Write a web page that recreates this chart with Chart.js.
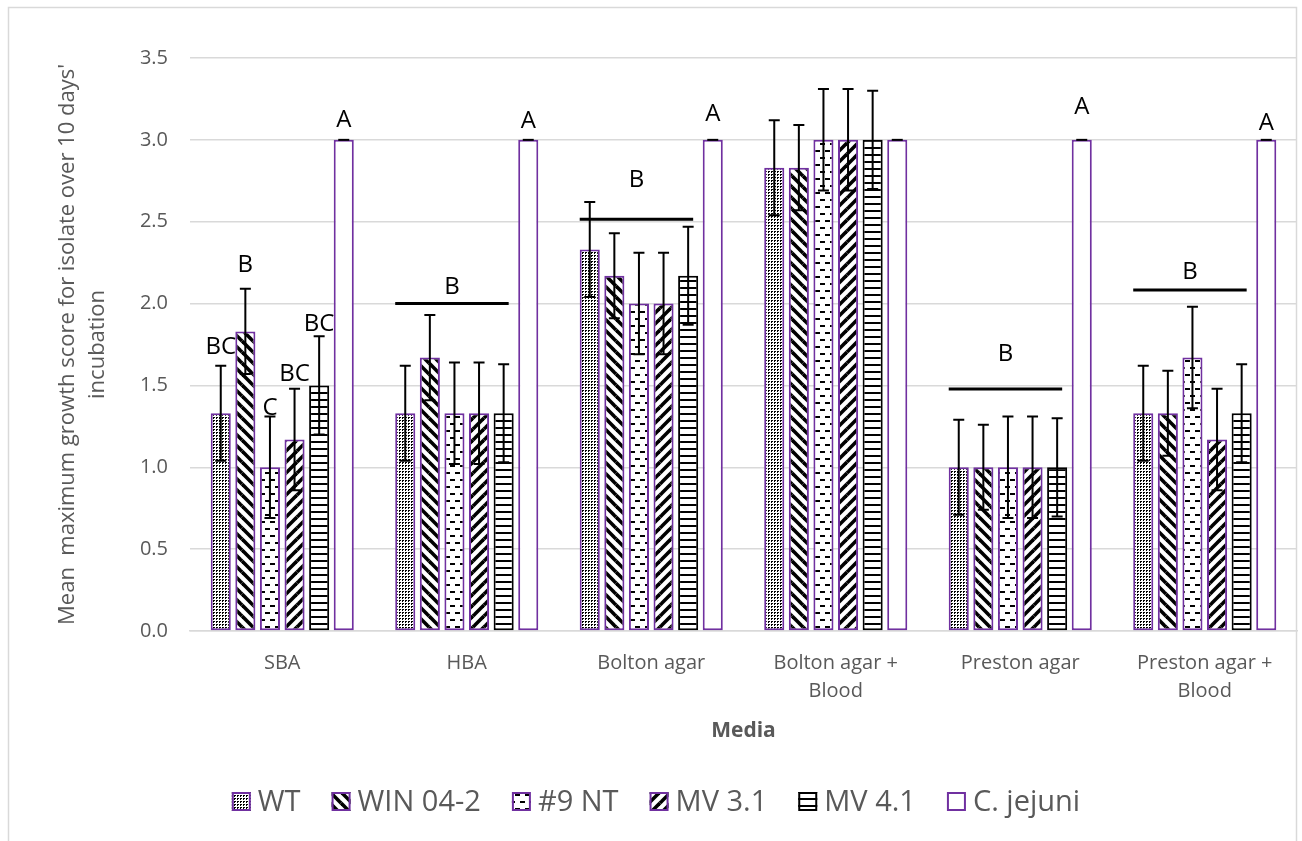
<!DOCTYPE html>
<html>
<head>
<meta charset="utf-8">
<title>Mean maximum growth score by medium</title>
<script src="https://cdn.jsdelivr.net/npm/chart.js@4.4.1/dist/chart.umd.min.js"></script>
<style>
  html, body { margin: 0; padding: 0; background: #ffffff; }
  canvas { display: block; }
</style>
</head>
<body>
<canvas id="growth" width="1302" height="841"></canvas>
<script>
// ---- data -------------------------------------------------------------
const media = ['SBA', 'HBA', 'Bolton agar', ['Bolton agar +', 'Blood'], 'Preston agar', ['Preston agar +', 'Blood']];
const isolates = ['WT', 'WIN 04-2', '#9 NT', 'MV 3.1', 'MV 4.1', 'C. jejuni'];

const wtMean       = [1.33, 1.33, 2.33, 2.83, 1.00, 1.33];
const win042Mean   = [1.83, 1.67, 2.17, 2.83, 1.00, 1.33];
const nt9Mean      = [1.00, 1.33, 2.00, 3.00, 1.00, 1.67];
const mv31Mean     = [1.17, 1.33, 2.00, 3.00, 1.00, 1.17];
const mv41Mean     = [1.50, 1.33, 2.17, 3.00, 1.00, 1.33];
const cjejuniMean  = [3.00, 3.00, 3.00, 3.00, 3.00, 3.00];

const wtErr      = [0.29, 0.29, 0.29, 0.29, 0.29, 0.29];
const win042Err  = [0.26, 0.26, 0.26, 0.26, 0.26, 0.26];
const nt9Err     = [0.31, 0.31, 0.31, 0.31, 0.31, 0.31];
const mv31Err    = [0.31, 0.31, 0.31, 0.31, 0.31, 0.31];
const mv41Err    = [0.30, 0.30, 0.30, 0.30, 0.30, 0.30];
const cjejuniErr = [0, 0, 0, 0, 0, 0];

const yTickValues = [0, 0.5, 1.0, 1.5, 2.0, 2.5, 3.0, 3.5];
const yTickLabels = ['0.0', '0.5', '1.0', '1.5', '2.0', '2.5', '3.0', '3.5'];

// significance letters over single bars (media index, isolate index, letter, baseline value)
const barLetters = [
  { media: 0, isolate: 0, text: 'BC', at: 1.69 },
  { media: 0, isolate: 1, text: 'B',  at: 2.19 },
  { media: 0, isolate: 2, text: 'C',  at: 1.32 },
  { media: 0, isolate: 3, text: 'BC', at: 1.53 },
  { media: 0, isolate: 4, text: 'BC', at: 1.83 },
  { media: 0, isolate: 5, text: 'A',  at: 3.08 },
  { media: 1, isolate: 5, text: 'A',  at: 3.075 },
  { media: 2, isolate: 5, text: 'A',  at: 3.115 },
  { media: 4, isolate: 5, text: 'A',  at: 3.16 },
  { media: 5, isolate: 5, text: 'A',  at: 3.06 }
];
// shared letter over the five test isolates of one medium
const groupLetters = [
  { media: 1, text: 'B', lineAt: 2.00,  at: 2.056 },
  { media: 2, text: 'B', lineAt: 2.515, at: 2.71 },
  { media: 4, text: 'B', lineAt: 1.478, at: 1.652 },
  { media: 5, text: 'B', lineAt: 2.083, at: 2.153 }
];

// ---- fills ------------------------------------------------------------
const INK = '#000000';
const PURPLE = '#7030A0';
const TEXT_GREY = '#595959';
const GRID_GREY = '#d9d9d9';
const FONT = "'Open Sans', 'Noto Sans', sans-serif";

function makeTile(w, h, paint) {
  const c = document.createElement('canvas');
  c.width = w; c.height = h;
  const g = c.getContext('2d');
  g.fillStyle = '#ffffff';
  g.fillRect(0, 0, w, h);
  g.fillStyle = INK;
  g.strokeStyle = INK;
  paint(g, w, h);
  return g.createPattern(c, 'repeat');
}
function diagonal(down) {
  return makeTile(11, 11, (g, w, h) => {
    g.lineWidth = 3.6;
    for (const [dx, dy] of [[0, 0], [-w, 0], [w, 0], [0, -h], [0, h]]) {
      g.beginPath();
      if (down) { g.moveTo(dx, dy); g.lineTo(dx + w, dy + h); }
      else { g.moveTo(dx, dy + h); g.lineTo(dx + w, dy); }
      g.stroke();
    }
  });
}
const dottedFill = makeTile(3, 3, g => { g.fillRect(0, 0, 1, 2); g.fillRect(1, 0, 1, 1); });
const downDiagFill = diagonal(true);
const upDiagFill = diagonal(false);
const dashedFill = makeTile(10, 14, g => { g.fillRect(0, 3, 5, 2); g.fillRect(5, 10, 5, 2); });
const horizFill = makeTile(4, 7, g => g.fillRect(0, 0, 4, 2));

const series = [
  { label: isolates[0], data: wtMean,      err: wtErr,      fill: dottedFill,   edge: PURPLE },
  { label: isolates[1], data: win042Mean,  err: win042Err,  fill: downDiagFill, edge: PURPLE },
  { label: isolates[2], data: nt9Mean,     err: nt9Err,     fill: dashedFill,   edge: PURPLE },
  { label: isolates[3], data: mv31Mean,    err: mv31Err,    fill: upDiagFill,   edge: PURPLE },
  { label: isolates[4], data: mv41Mean,    err: mv41Err,    fill: horizFill,    edge: INK },
  { label: isolates[5], data: cjejuniMean, err: cjejuniErr, fill: '#ffffff',    edge: PURPLE }
];

// ---- plugins ----------------------------------------------------------
const frame = {
  id: 'frame',
  beforeDraw(chart) {
    const { ctx, height } = chart;
    ctx.save();
    ctx.fillStyle = '#ffffff';
    ctx.fillRect(0, 0, chart.width, height);
    ctx.strokeStyle = GRID_GREY;
    ctx.lineWidth = 1.5;
    ctx.strokeRect(8.5, 7.5, 1288, height + 10);
    ctx.restore();
  }
};

const errorBars = {
  id: 'errorBars',
  afterDatasetsDraw(chart) {
    const { ctx } = chart;
    const y = chart.scales.y;
    ctx.save();
    ctx.strokeStyle = INK;
    ctx.lineWidth = 2;
    chart.data.datasets.forEach((ds, di) => {
      const meta = chart.getDatasetMeta(di);
      meta.data.forEach((bar, i) => {
        const v = ds.data[i], e = ds.errorValues[i];
        const top = y.getPixelForValue(v + e);
        const bot = y.getPixelForValue(v - e);
        const half = 5.5;
        ctx.beginPath();
        if (e > 0) {
          ctx.moveTo(bar.x, top); ctx.lineTo(bar.x, bot);
          ctx.moveTo(bar.x - half, bot); ctx.lineTo(bar.x + half, bot);
        }
        ctx.moveTo(bar.x - half, top); ctx.lineTo(bar.x + half, top);
        ctx.stroke();
      });
    });
    ctx.restore();
  }
};

const letters = {
  id: 'letters',
  afterDatasetsDraw(chart) {
    const { ctx } = chart;
    const y = chart.scales.y;
    ctx.save();
    ctx.fillStyle = INK;
    ctx.strokeStyle = INK;
    ctx.font = '24px ' + FONT;
    ctx.textAlign = 'center';
    ctx.textBaseline = 'alphabetic';
    barLetters.forEach(m => {
      const bar = chart.getDatasetMeta(m.isolate).data[m.media];
      ctx.fillText(m.text, bar.x, y.getPixelForValue(m.at));
    });
    groupLetters.forEach(g => {
      const first = chart.getDatasetMeta(0).data[g.media];
      const last = chart.getDatasetMeta(4).data[g.media];
      const x0 = first.x - first.width / 2;
      const x1 = last.x + last.width / 4;
      const ly = y.getPixelForValue(g.lineAt);
      ctx.lineWidth = 3;
      ctx.beginPath();
      ctx.moveTo(x0, ly); ctx.lineTo(x1, ly);
      ctx.stroke();
      ctx.fillText(g.text, (x0 + x1) / 2, y.getPixelForValue(g.at));
    });
    ctx.restore();
  }
};

const seriesKey = {
  id: 'seriesKey',
  afterDraw(chart) {
    const { ctx } = chart;
    const box = 19, gapText = 7, gapItem = 31, centerX = 656, midY = 801.5;
    ctx.save();
    ctx.font = '29px ' + FONT;
    const items = chart.data.datasets.map(ds => ({ ds, w: ctx.measureText(ds.label).width }));
    const total = items.reduce((s, it) => s + box + gapText + it.w, 0) + gapItem * (items.length - 1);
    let x = centerX - total / 2;
    ctx.textBaseline = 'middle';
    ctx.textAlign = 'left';
    items.forEach(it => {
      const top = midY - box / 2;
      ctx.fillStyle = it.ds.backgroundColor;
      ctx.fillRect(x, top, box, box);
      ctx.strokeStyle = it.ds.borderColor;
      ctx.lineWidth = 2;
      ctx.strokeRect(x + 1, top + 1, box - 2, box - 2);
      ctx.fillStyle = TEXT_GREY;
      ctx.fillText(it.ds.label, x + box + gapText, midY + 1);
      x += box + gapText + it.w + gapItem;
    });
    ctx.restore();
  }
};

// ---- chart ------------------------------------------------------------
new Chart(document.getElementById('growth'), {
  type: 'bar',
  data: {
    labels: media,
    datasets: series.map(s => ({
      label: s.label,
      data: s.data,
      errorValues: s.err,
      backgroundColor: s.fill,
      borderColor: s.edge,
      borderWidth: 2,
      borderSkipped: false,
      categoryPercentage: 0.8,
      barPercentage: 0.816
    }))
  },
  options: {
    responsive: false,
    devicePixelRatio: 1,
    animation: false,
    layout: { padding: { left: 0, right: 5, top: 58, bottom: 0 } },
    plugins: {
      legend: { display: false },
      tooltip: { enabled: false }
    },
    scales: {
      x: {
        grid: { display: false, drawTicks: false },
        border: { display: true, color: GRID_GREY, width: 1.5 },
        ticks: {
          color: TEXT_GREY,
          font: { family: FONT, size: 20, lineHeight: 1.4 },
          padding: 18,
          maxRotation: 0,
          autoSkip: false
        },
        title: {
          display: true,
          text: 'Media',
          color: TEXT_GREY,
          font: { family: FONT, size: 21, weight: 'bold', lineHeight: 1.2 },
          padding: { top: 0, bottom: 97 }
        },
        afterFit(scale) { scale.height = 210; }
      },
      y: {
        min: 0,
        max: 3.5,
        afterBuildTicks(scale) { scale.ticks = yTickValues.map(v => ({ value: v })); },
        grid: { color: GRID_GREY, lineWidth: 1.5, drawTicks: false },
        border: { display: false },
        ticks: {
          color: TEXT_GREY,
          font: { family: FONT, size: 20 },
          padding: 22,
          callback: (v, i) => yTickLabels[i]
        },
        title: {
          display: true,
          text: ["Mean  maximum growth score for isolate over 10 days'", 'incubation'],
          color: TEXT_GREY,
          font: { family: FONT, size: 22, lineHeight: 1.4 },
          padding: { top: 52, bottom: 0 }
        },
        afterFit(scale) { scale.width = 190; }
      }
    }
  },
  plugins: [frame, errorBars, letters, seriesKey]
});
</script>
</body>
</html>
